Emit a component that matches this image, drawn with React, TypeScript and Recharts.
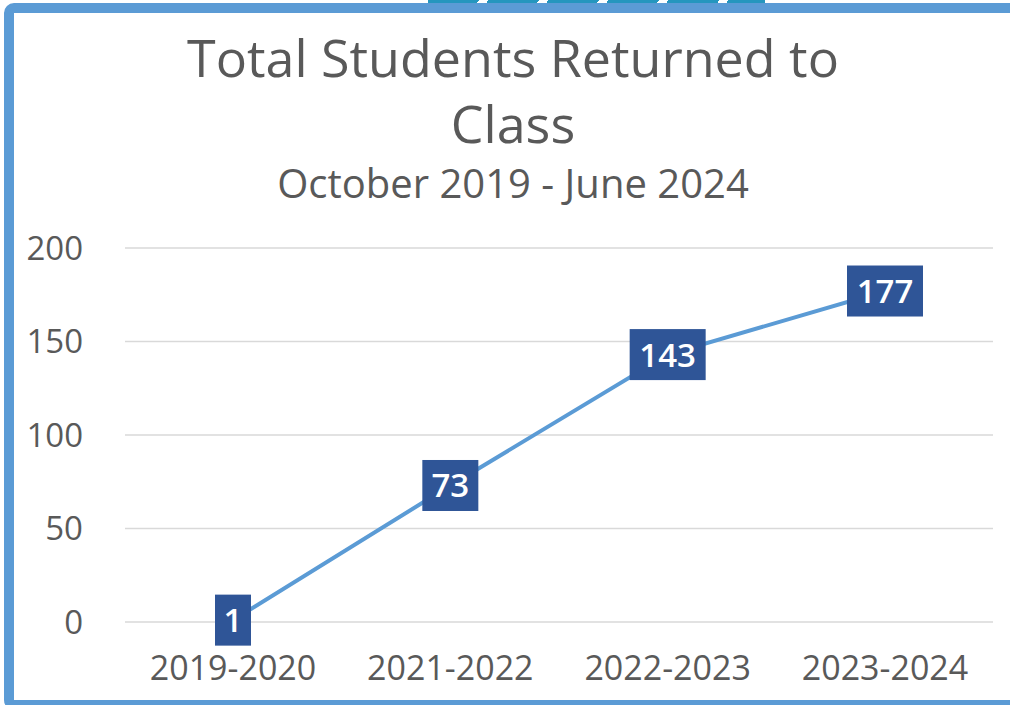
import { LineChart, Line, XAxis, YAxis, CartesianGrid, LabelList } from 'recharts';

const seasons = ['2019-2020', '2021-2022', '2022-2023', '2023-2024'];
const studentsReturned = [1, 73, 143, 177];
const yTicks = [0, 50, 100, 150, 200];

const data = seasons.map((season, i) => ({ season, students: studentsReturned[i] }));

const FONT = '"Open Sans", "Noto Sans", sans-serif';
const GRAY = '#595959';

// eslint-disable-next-line @typescript-eslint/no-explicit-any
const BoxLabel = (props: any) => {
    const { x, y, value } = props;
    const text = String(value);
    const w = text.length * 20 + 16;
    const h = 51;
    return (
        <g>
            <rect x={x - w / 2} y={y - h / 2} width={w} height={h} fill="#2F5597" />
            <text
                x={x}
                y={y + 12}
                textAnchor="middle"
                fill="#fff"
                fontSize={33}
                fontFamily={FONT}
                fontWeight={600}
            >
                {text}
            </text>
        </g>
    );
};

export default function App() {
    return (
        <div style={{ position: 'absolute', left: 0, top: 0, width: 1010, height: 705, overflow: 'hidden', background: '#fff' }}>
            {/* bit of the graphic above, cut off */}
            <div
                style={{
                    position: 'absolute', left: 428, top: 0, width: 337, height: 4,
                    background: 'repeating-linear-gradient(120deg, #2596BE 0px, #2596BE 44px, #fff 44px, #fff 52px)',
                }}
            />
            {/* frame */}
            <div
                style={{
                    position: 'absolute', left: 4, top: 3, width: 1030, height: 687,
                    border: '10px solid #5B9BD5', borderRadius: 10,
                }}
            />
            <svg width={1010} height={230} style={{ position: 'absolute', left: 0, top: 0 }}>
                <text x={513} y={77} textAnchor="middle" fontSize={52} fontFamily={FONT} fill={GRAY}>
                    Total Students Returned to
                </text>
                <text x={513} y={143} textAnchor="middle" fontSize={52} fontFamily={FONT} fill={GRAY}>
                    Class
                </text>
                <text x={513} y={198} textAnchor="middle" fontSize={40} fontFamily={FONT} fill={GRAY}>
                    October 2019 - June 2024
                </text>
            </svg>
            <div style={{ position: 'absolute', left: 0, top: 0 }}>
                <LineChart width={1010} height={705} data={data} margin={{ top: 248, right: 17, bottom: 0, left: 0 }}>
                    <CartesianGrid vertical={false} stroke="#D9D9D9" strokeWidth={1.5} />
                    <XAxis
                        dataKey="season"
                        axisLine={false}
                        tickLine={false}
                        tickSize={0}
                        tickMargin={34}
                        padding={{ left: 108, right: 108 }}
                        tick={{ fill: GRAY, fontSize: 34, fontFamily: FONT }}
                        height={83}
                    />
                    <YAxis
                        domain={[0, 200]}
                        ticks={yTicks}
                        axisLine={false}
                        tickLine={false}
                        tickSize={0}
                        tickMargin={42}
                        width={125}
                        tick={{ fill: GRAY, fontSize: 33, fontFamily: FONT }}
                    />
                    <Line
                        type="linear"
                        dataKey="students"
                        stroke="#5B9BD5"
                        strokeWidth={4}
                        dot={false}
                        isAnimationActive={false}
                    >
                        <LabelList dataKey="students" content={BoxLabel} />
                    </Line>
                </LineChart>
            </div>
        </div>
    );
}
